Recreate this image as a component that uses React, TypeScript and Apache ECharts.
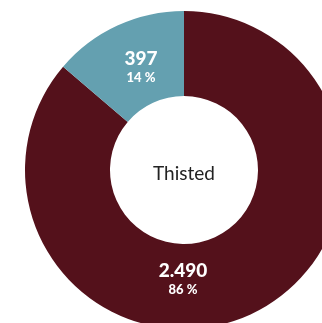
import React, { useEffect, useRef } from "react";
import * as echarts from "echarts";

const categories = ["Øvrige", "Thisted del"];
const values = [2490, 397];
const percents = [86, 14];
const colors = ["#54111b", "#64a0b0"];
const centerTitle = "Thisted";

function fmt(n: number): string {
  return String(n).replace(/\B(?=(\d{3})+(?!\d))/g, ".");
}

export default function App() {
  const ref = useRef<HTMLDivElement>(null);
  useEffect(() => {
    if (!ref.current) return;
    const chart = echarts.init(ref.current, null, { renderer: "svg" });
    const offsets = [
      [-51, 0],
      [7, 5],
    ];
    chart.setOption({
      animation: false,
      graphic: [
        {
          type: "text",
          x: 184,
          y: 172,
          style: {
            text: centerTitle,
            fontFamily: "Lato",
            fontSize: 19,
            fill: "#222",
            align: "center",
            verticalAlign: "middle",
          },
        },
      ],
      series: [
        {
          type: "pie",
          center: [184, 170],
          radius: [74, 159],
          startAngle: 90,
          clockwise: true,
          silent: true,
          itemStyle: { borderWidth: 0 },
          labelLine: { show: false },
          data: values.map((v, i) => ({
            name: categories[i],
            value: v,
            itemStyle: { color: colors[i] },
            label: {
              show: true,
              position: "inside",
              offset: offsets[i],
              formatter: `{a|${fmt(v)}}\n{b|${percents[i]} %}`,
              rich: {
                a: {
                  fontFamily: "Lato",
                  fontWeight: 900,
                  fontSize: 19,
                  color: "#fff",
                  lineHeight: 21,
                  align: "center",
                },
                b: {
                  fontFamily: "Lato",
                  fontWeight: 900,
                  fontSize: 13,
                  color: "#fff",
                  lineHeight: 18,
                  align: "center",
                },
              },
            },
          })),
        },
      ],
    });
    return () => chart.dispose();
  }, []);
  return (
    <div
      ref={ref}
      style={{ position: "fixed", left: 0, top: 0, width: 322, height: 323 }}
    />
  );
}
